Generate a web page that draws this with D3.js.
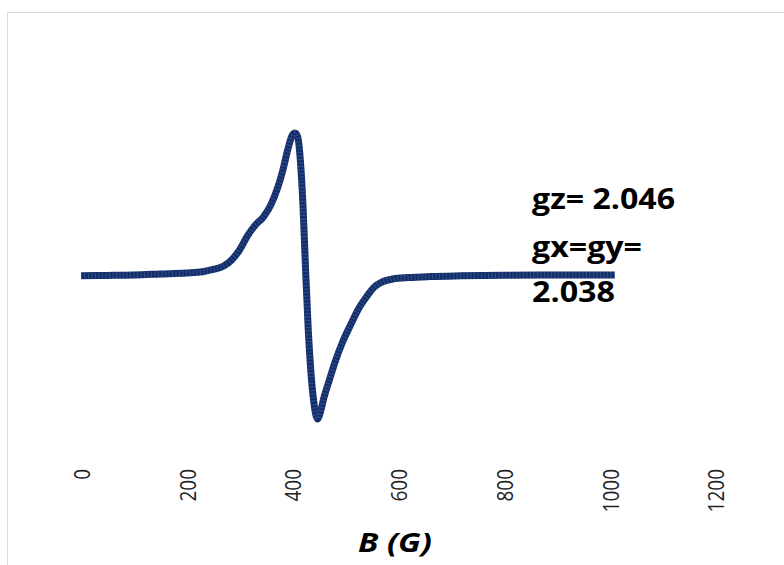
<!DOCTYPE html>
<html>
<head>
<meta charset="utf-8">
<script src="https://cdn.jsdelivr.net/npm/d3@7"></script>
<style>
  html, body { margin: 0; padding: 0; background: #fff; }
  svg { display: block; }
</style>
</head>
<body>
<svg id="chart" width="784" height="565"></svg>
<script>
// EPR derivative spectrum: field (G) vs. signal (arb. units)
const fieldG = [0, 50, 100, 150, 200, 230, 250, 270, 285, 300, 315, 330, 345, 360, 372, 382, 392, 400, 405, 410, 415, 420, 425, 430, 435, 440, 445, 448, 452, 460, 470, 480, 495, 510, 525, 540, 555, 570, 590, 620, 660, 720, 800, 900, 1010];
const signal = [-0.005, -0.003, 0, 0.007, 0.014, 0.023, 0.039, 0.063, 0.106, 0.176, 0.275, 0.352, 0.408, 0.5, 0.613, 0.739, 0.894, 0.986, 1.0, 0.972, 0.81, 0.493, 0.035, -0.387, -0.683, -0.88, -0.993, -1.014, -0.979, -0.859, -0.739, -0.62, -0.472, -0.352, -0.239, -0.155, -0.085, -0.049, -0.028, -0.018, -0.011, -0.006, -0.002, 0, 0];
const xTicks = [0, 200, 400, 600, 800, 1000, 1200];
const xTitle = "B (G)";
const annotation = ["gz= 2.046", "gx=gy=", "2.038"];

const svg = d3.select("#chart");
const lineColor = "#132f6b";

// chart frame
svg.append("rect")
  .attr("x", 7.5).attr("y", 12.5)
  .attr("width", 800).attr("height", 600)
  .attr("fill", "#fff")
  .attr("stroke", "#d9d9d9").attr("stroke-width", 1);

const x = d3.scaleLinear().domain([0, 1200]).range([81, 715.2]);
const y = d3.scaleLinear().domain([-1, 1]).range([417, 133]);

const pts = fieldG.map((b, i) => [b, signal[i]]);
const line = d3.line()
  .x(d => x(d[0]))
  .y(d => y(d[1]))
  .curve(d3.curveMonotoneX);

// thick spectrum trace
svg.append("path")
  .datum(pts)
  .attr("d", line)
  .attr("fill", "none")
  .attr("stroke", lineColor)
  .attr("stroke-width", 7)
  .attr("stroke-linejoin", "round");

// fine marker texture along the trace
svg.append("path")
  .datum(pts)
  .attr("d", line)
  .attr("fill", "none")
  .attr("stroke", "#6d83b8")
  .attr("stroke-width", 6)
  .attr("stroke-dasharray", "1 2.5")
  .attr("stroke-opacity", 0.35);

// x-axis tick labels (rotated, no axis line)
const xAxis = d3.axisBottom(x)
  .tickValues(xTicks)
  .tickFormat(d3.format("d"))
  .tickSize(0)
  .tickPadding(0);
const gx = svg.append("g").attr("transform", "translate(0,469)").call(xAxis);
gx.select(".domain").remove();
gx.selectAll(".tick text")
  .attr("font-family", "'Open Sans', sans-serif")
  .attr("font-size", 19)
  .attr("fill", "#222")
  .attr("text-anchor", "end")
  .attr("dy", null)
  .attr("y", 0)
  .attr("dominant-baseline", "central")
  .attr("transform", "scale(1.15,1) rotate(-90)");

// axis title
svg.append("text")
  .attr("x", 395).attr("y", 552)
  .attr("text-anchor", "middle")
  .attr("font-family", "'Open Sans', sans-serif")
  .attr("font-size", 27)
  .attr("font-weight", "bold")
  .attr("font-style", "italic")
  .attr("textLength", 74)
  .attr("lengthAdjust", "spacingAndGlyphs")
  .attr("fill", "#000")
  .text(xTitle);

// g-value annotation
const baselines = [209, 257, 302];
const widths = [143, 110, 83];
svg.append("g").selectAll("text")
  .data(annotation)
  .join("text")
  .attr("x", 532)
  .attr("y", (d, i) => baselines[i])
  .attr("font-family", "'Open Sans', sans-serif")
  .attr("font-size", 28)
  .attr("font-weight", "bold")
  .attr("fill", "#000")
  .attr("textLength", (d, i) => widths[i])
  .attr("lengthAdjust", "spacingAndGlyphs")
  .text(d => d);
</script>
</body>
</html>
